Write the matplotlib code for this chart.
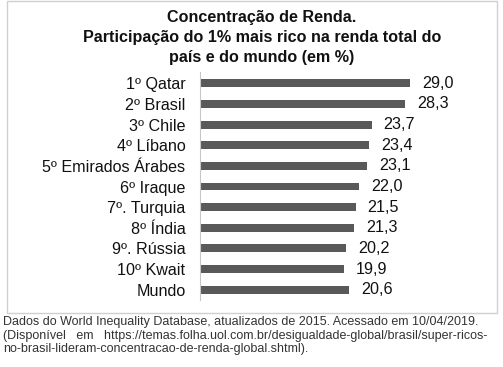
import matplotlib.pyplot as plt
from matplotlib.patches import Rectangle

plt.rcParams['font.family'] = ['Liberation Sans', 'DejaVu Sans']

# Dados
paises = ["1º Qatar", "2º Brasil", "3º Chile", "4º Líbano", "5º Emirados Árabes",
          "6º Iraque", "7º. Turquia", "8º Índia", "9º. Rússia", "10º Kwait", "Mundo"]
valores = [29.0, 28.3, 23.7, 23.4, 23.1, 22.0, 21.5, 21.3, 20.2, 19.9, 20.6]

titulo = ("Concentração de Renda.\n"
          "Participação do 1% mais rico na renda total do\n"
          "país e do mundo (em %)")
fonte = ["Dados do World Inequality Database, atualizados de 2015. Acessado em 10/04/2019.",
         "(Disponível   em   https://temas.folha.uol.com.br/desigualdade-global/brasil/super-ricos-",
         "no-brasil-lideram-concentracao-de-renda-global.shtml)."]

W, H = 503, 367
fig = plt.figure(figsize=(W / 100, H / 100), dpi=100)

# moldura do gráfico
fig.patches.append(Rectangle((7 / W, 1 - 313 / H), 490 / W, 312 / H,
                             transform=fig.transFigure, fill=False,
                             edgecolor="#d0d0d0", linewidth=1))

fig.text(262 / W, 1 - 10 / H, titulo, ha="center", va="top", fontsize=11.6,
         fontweight="bold", linespacing=1.42, color="#111111")

ax = fig.add_axes([200 / W, 1 - 300 / H, 280 / W, 228 / H])
pos = range(len(paises))
ax.barh(pos, valores, height=0.38, color="#595959")
ax.set_xlim(0, 280 / 7.24)
ax.set_ylim(10.5, -0.55)
ax.set_yticks(list(pos))
ax.set_yticklabels(paises, fontsize=11.6, color="#111111")
ax.tick_params(axis="y", length=0, pad=10.5)
ax.set_xticks([])
for s in ["top", "right", "bottom"]:
    ax.spines[s].set_visible(False)
ax.spines["left"].set_color("#c8c8c8")
ax.patch.set_alpha(0)

for i, v in enumerate(valores):
    ax.annotate(f"{v:.1f}".replace(".", ","), (v, i), xytext=(8.6, 0),
                textcoords="offset points", va="center", ha="left",
                fontsize=11.6, color="#111111")

for k, linha in enumerate(fonte):
    fig.text(3 / W, 1 - (322 + 13.5 * k) / H, linha, ha="left", va="center",
             fontsize=9.0, color="#333333")

fig.savefig("out.png", dpi=100)
